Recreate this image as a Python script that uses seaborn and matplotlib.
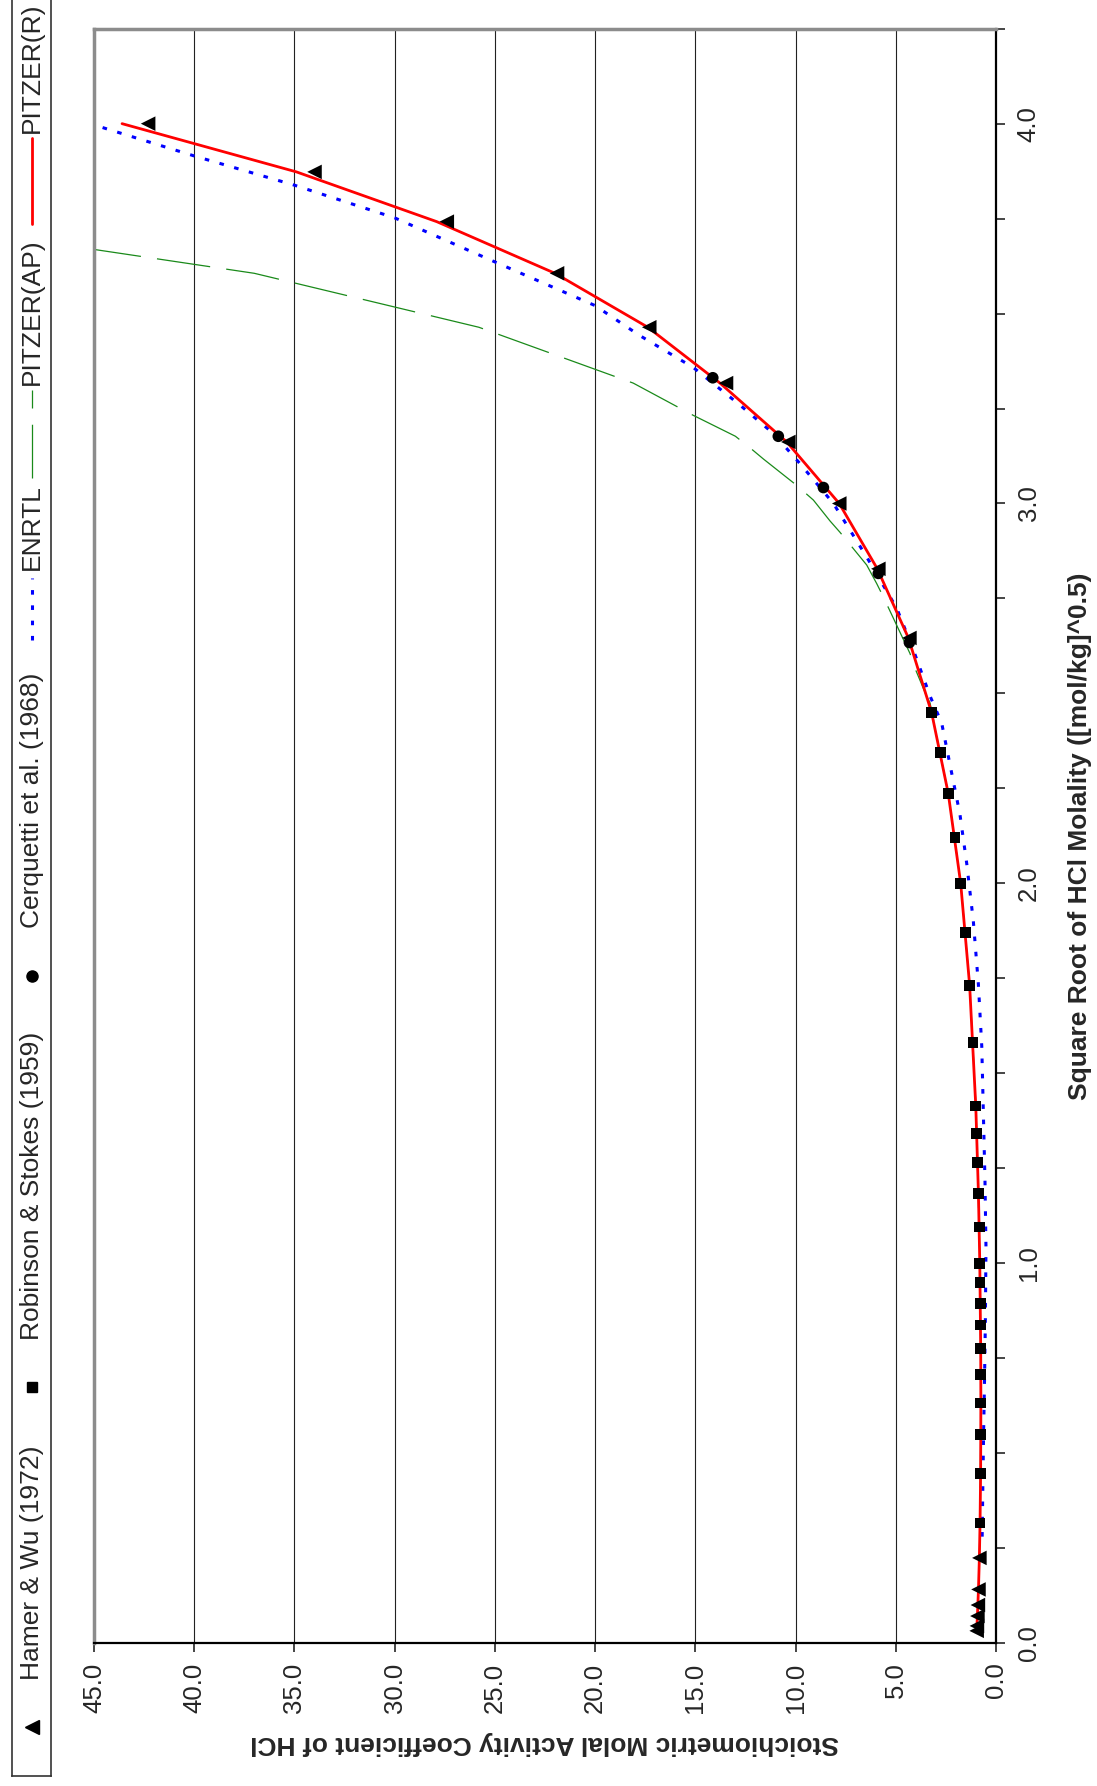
import matplotlib
matplotlib.use("Agg")
import matplotlib.pyplot as plt
from matplotlib.ticker import MultipleLocator, FormatStrFormatter
import seaborn as sns

# experimental data (square root of molality, activity coefficient)
hw_sqrtm = [0.032, 0.045, 0.071, 0.100, 0.141, 0.224,
            2.646, 2.828, 3.000, 3.162, 3.317, 3.464, 3.606, 3.742, 3.873, 4.000]
hw_gamma = [0.965, 0.952, 0.928, 0.904, 0.875, 0.830,
            4.32, 5.87, 7.82, 10.36, 13.47, 17.3, 21.9, 27.4, 34.0, 42.3]

rs_sqrtm = [0.316, 0.447, 0.548, 0.632, 0.707, 0.775, 0.837, 0.894, 0.949, 1.000,
            1.095, 1.183, 1.265, 1.342, 1.414, 1.581, 1.732, 1.871, 2.000, 2.121,
            2.236, 2.345, 2.449]
rs_gamma = [0.796, 0.767, 0.756, 0.755, 0.757, 0.763, 0.772, 0.783, 0.795, 0.809,
            0.840, 0.876, 0.916, 0.960, 1.009, 1.147, 1.316, 1.518, 1.762, 2.04,
            2.38, 2.77, 3.22]

ce_sqrtm = [2.634, 2.816, 3.042, 3.177, 3.331]
ce_gamma = [4.32, 5.87, 8.61, 10.86, 14.13]

# model curves
enrtl_sqrtm = [0.28, 0.40, 0.55, 0.70, 0.85, 1.042, 1.218, 1.394, 1.571, 1.735,
               1.900, 2.052, 2.182, 2.311, 2.422, 2.493, 2.614, 2.724, 2.859, 3.000,
               3.105, 3.184, 3.259, 3.358, 3.443, 3.521, 3.636, 3.752, 3.838, 3.915, 4.000]
enrtl_gamma = [0.69, 0.66, 0.62, 0.57, 0.53, 0.50, 0.55, 0.63, 0.71, 0.88,
               1.13, 1.46, 1.80, 2.29, 2.71, 3.29, 4.12, 4.95, 6.45, 8.11,
               9.78, 11.1, 12.77, 15.1, 17.8, 20.0, 25.0, 30.0, 35.0, 40.0, 45.2]

pap_sqrtm = [0.224, 0.316, 0.632, 1.000, 1.414, 1.732, 2.000, 2.236, 2.475, 2.491,
             2.566, 2.605, 2.754, 2.789, 2.838, 2.924, 2.954, 3.009, 3.048, 3.117,
             3.143, 3.177, 3.232, 3.317, 3.464, 3.606, 3.742]
pap_gamma = [0.83, 0.80, 0.75, 0.80, 1.00, 1.31, 1.76, 2.38, 3.29, 3.45,
             4.04, 4.29, 5.62, 5.95, 6.45, 7.78, 8.28, 9.11, 9.95, 11.6,
             12.19, 13.0, 15.1, 18.1, 25.8, 37.0, 54.3]

pr_sqrtm = [0.032, 0.071, 0.141, 0.224, 0.316, 0.447, 0.632, 0.775, 1.000, 1.183,
            1.414, 1.732, 2.000, 2.236, 2.449, 2.646, 2.828, 3.000, 3.162, 3.317,
            3.464, 3.606, 3.742, 3.873, 4.000]
pr_gamma = [0.965, 0.928, 0.875, 0.830, 0.796, 0.767, 0.755, 0.763, 0.809, 0.876,
            1.009, 1.316, 1.762, 2.38, 3.21, 4.37, 5.92, 7.82, 10.44, 13.77,
            17.37, 22.0, 27.9, 34.9, 43.6]

sns.set_style("white")
plt.rcParams["font.family"] = ["Liberation Sans", "DejaVu Sans"]

W, H = 1097, 1786
fig = plt.figure(figsize=(W / 100, H / 100), dpi=100)
ax = fig.add_axes([94 / W, 1 - 1643 / H, (996 - 94) / W, (1643 - 28.7) / H])

ax.xaxis.grid(True, color="#222222", lw=0.8, zorder=0)
ax.set_axisbelow(True)

dotted = (0, (1.5, 3.5))
dashed = (0, (43, 13))

sns.lineplot(x=pap_gamma, y=pap_sqrtm, sort=False, estimator=None, ax=ax,
             color="#1a8a1a", lw=0.9, linestyle=dashed, zorder=2)
sns.lineplot(x=enrtl_gamma, y=enrtl_sqrtm, sort=False, estimator=None, ax=ax,
             color="#0000ff", lw=2.2, linestyle=dotted, zorder=3)
sns.lineplot(x=pr_gamma, y=pr_sqrtm, sort=False, estimator=None, ax=ax,
             color="#ff0000", lw=2.0, zorder=4)

sns.scatterplot(x=hw_gamma, y=hw_sqrtm, marker="<", s=110, color="black",
                edgecolor="none", ax=ax, zorder=5)
sns.scatterplot(x=rs_gamma, y=rs_sqrtm, marker="s", s=60, color="black",
                edgecolor="none", ax=ax, zorder=5)
sns.scatterplot(x=ce_gamma, y=ce_sqrtm, marker="o", s=70, color="black",
                edgecolor="none", ax=ax, zorder=5)

ax.set_xlim(45, 0)
ax.set_ylim(0, 4.25)
ax.xaxis.set_major_locator(MultipleLocator(5))
ax.xaxis.set_major_formatter(FormatStrFormatter("%.1f"))
ax.yaxis.set_major_locator(MultipleLocator(1))
ax.yaxis.set_minor_locator(MultipleLocator(0.25))
ax.yaxis.set_major_formatter(FormatStrFormatter("%.1f"))

ax.tick_params(axis="x", bottom=True, direction="out", length=6.5, width=1.2,
               labelsize=18.5, labelrotation=90, pad=7.5)
ax.tick_params(axis="y", which="both", left=False, right=True, labelleft=False,
               labelright=True, direction="out", length=6.5, width=1.2)
ax.tick_params(axis="y", which="major", labelsize=18.5, labelrotation=90, pad=8.5)
plt.setp(ax.get_yticklabels(), va="center")

for side in ["left", "top"]:
    ax.spines[side].set_color("#8c8c8c")
    ax.spines[side].set_linewidth(2.5)
for side in ["right", "bottom"]:
    ax.spines[side].set_color("black")
    ax.spines[side].set_linewidth(1.6)

ax.set_xlabel("Stoichiometric Molal Activity Coefficient of HCl", fontsize=19,
              fontweight="bold", rotation=180, va="center")
ax.xaxis.set_label_coords(0.5, (1643 - 1743) / (1643 - 28.7))
ax.yaxis.set_label_position("right")
ax.set_ylabel("Square Root of HCl Molality ([mol/kg]^0.5)", fontsize=19,
              fontweight="bold", rotation=90, va="center", ha="center")
ax.yaxis.set_label_coords((1080 - 94) / (996 - 94), 0.5)

# legend strip on the left, built in pixel units
lg = fig.add_axes([11.5 / W, 1 - 1776 / H, 39 / W, 1776 / H + 0.02])
lg.set_xlim(0, 39)
lg.set_ylim(1776, -0.02 * H)
lg.set_xticks([])
lg.set_yticks([])
for s in lg.spines.values():
    s.set_color("#333333")
    s.set_linewidth(1.2)

lx = 20.5
lg.plot([lx], [1727], marker="<", ms=10, color="black", ls="none")
lg.plot([lx], [1387], marker="s", ms=7.5, color="black", ls="none")
lg.plot([lx], [976], marker="o", ms=8, color="black", ls="none")
lg.plot([lx, lx], [640, 578], color="#0000ff", lw=2.2, linestyle=dotted)
lg.plot([lx, lx], [478, 390], color="#1a8a1a", lw=0.9, linestyle=dashed)
lg.plot([lx, lx], [224, 138], color="#ff0000", lw=2.0)

legend_labels = ["Hamer & Wu (1972)", "Robinson & Stokes (1959)", "Cerquetti et al. (1968)",
                 "ENRTL", "PITZER(AP)", "PITZER(R)"]
label_starts = [1680, 1340, 928, 570, 385, 133]
for lab, y0 in zip(legend_labels, label_starts):
    lg.text(lx, y0, lab, rotation=90, ha="center", va="bottom", fontsize=19)

fig.savefig("out.png", dpi=100)
